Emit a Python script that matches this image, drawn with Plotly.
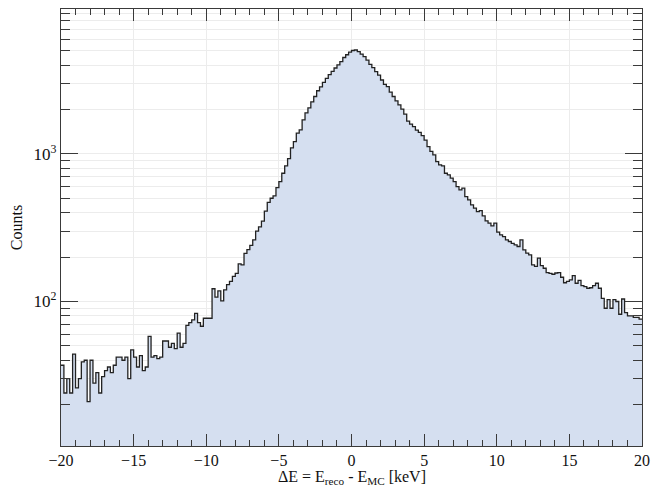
import numpy as np
import plotly.graph_objects as go

# Histogram definition (bin range in keV)
bin_lo = -20.0
bin_hi = 20.0
bin_width = 0.2

# Counts per bin (200 bins)
counts = [
    37, 24, 30, 24, 44, 26, 30, 39, 40, 21,
    40, 28, 33, 24, 31, 34, 36, 33, 37, 42,
    42, 40, 42, 30, 47, 42, 36, 43, 34, 36,
    58, 42, 43, 41, 42, 54, 54, 49, 52, 48,
    61, 49, 52, 69, 72, 75, 83, 72, 68, 77,
    77, 77, 122, 107, 118, 101, 120, 130, 137, 148,
    155, 180, 177, 212, 225, 240, 262, 300, 320, 350,
    410, 470, 501, 520, 592, 650, 740, 830, 930, 1100,
    1212, 1382, 1455, 1700, 1900, 2050, 2250, 2450, 2680, 2850,
    3050, 3250, 3450, 3630, 3820, 4010, 4220, 4500, 4700, 4890,
    5020, 5060, 4930, 4750, 4560, 4320, 4040, 3840, 3610, 3420,
    3170, 2960, 2860, 2620, 2450, 2290, 2150, 2010, 1860, 1670,
    1590, 1530, 1450, 1400, 1330, 1240, 1120, 1040, 985, 887,
    843, 830, 740, 721, 685, 649, 601, 570, 586, 514,
    488, 452, 429, 407, 413, 380, 352, 340, 325, 340,
    295, 283, 275, 262, 255, 248, 242, 236, 262, 224,
    213, 207, 177, 173, 197, 175, 168, 157, 155, 153,
    156, 157, 146, 134, 137, 140, 150, 133, 139, 128,
    126, 123, 124, 128, 133, 123, 105, 90, 103, 90,
    103, 100, 82, 104, 84, 80, 80, 78, 78, 76,
]

y_major_vals = [100, 1000]
y_major_text = ["10<sup>2</sup>", "10<sup>3</sup>"]
y_minor_vals = [20, 30, 40, 50, 60, 70, 80, 90,
                200, 300, 400, 500, 600, 700, 800, 900,
                2000, 3000, 4000, 5000, 6000, 7000, 8000, 9000]
x_major_vals = [-20, -15, -10, -5, 0, 5, 10, 15, 20]
x_title = "ΔE = E<sub>reco</sub> - E<sub>MC</sub> [keV]"
y_title = "Counts"

edges = np.round(np.arange(len(counts) + 1) * bin_width + bin_lo, 4)
step_x = list(edges)
step_y = list(counts) + [counts[-1]]

FONT = "Times New Roman, Liberation Serif, DejaVu Serif, serif"
AX = "#3a3a3a"
GRID = "#ececec"

fig = go.Figure()
# baseline below the visible range so the fill reaches the bottom axis
fig.add_trace(go.Scatter(x=[bin_lo, bin_hi], y=[1, 1], mode="lines",
                         line=dict(width=0, color="rgba(0,0,0,0)"),
                         hoverinfo="skip", showlegend=False))
fig.add_trace(go.Scatter(x=step_x, y=step_y, mode="lines",
                         line=dict(shape="hv", color="#222222", width=1.3),
                         fill="tonexty", fillcolor="#d5dff0",
                         showlegend=False))

fig.update_layout(
    width=653, height=487,
    margin=dict(l=61, r=11, t=9, b=41),
    paper_bgcolor="white", plot_bgcolor="white",
    font=dict(family=FONT, size=16, color="#111111"),
)
fig.update_xaxes(
    range=[bin_lo, bin_hi], automargin=False,
    tickmode="array", tickvals=x_major_vals,
    ticks="inside", ticklen=12, tickwidth=1.2, tickcolor=AX,
    ticklabelstandoff=0,
    showline=True, linecolor=AX, linewidth=1.4, mirror="allticks",
    showgrid=True, gridcolor=GRID, gridwidth=1,
    zeroline=False,
    tickfont=dict(family=FONT, size=16),
    minor=dict(dtick=1, ticks="inside", ticklen=6, tickwidth=1.1,
               tickcolor=AX, showgrid=False),
)
fig.update_yaxes(
    type="log", range=[1.021, 3.982], automargin=False,
    tickmode="array", tickvals=y_major_vals, ticktext=y_major_text,
    ticks="inside", ticklen=17, tickwidth=1.2, tickcolor=AX,
    showline=True, linecolor=AX, linewidth=1.4, mirror="allticks",
    showgrid=True, gridcolor=GRID, gridwidth=1,
    zeroline=False,
    tickfont=dict(family=FONT, size=17),
    minor=dict(tickmode="array", tickvals=y_minor_vals, ticks="inside",
               ticklen=9, tickwidth=1.1, tickcolor=AX,
               showgrid=True, gridcolor=GRID, gridwidth=1),
    title=dict(text=y_title, font=dict(family=FONT, size=16), standoff=6),
)
fig.add_annotation(text=x_title, xref="paper", yref="paper",
                   x=0.5, y=-0.071, xanchor="center", yanchor="middle",
                   showarrow=False, font=dict(family=FONT, size=16))

fig.write_html("out.html")
